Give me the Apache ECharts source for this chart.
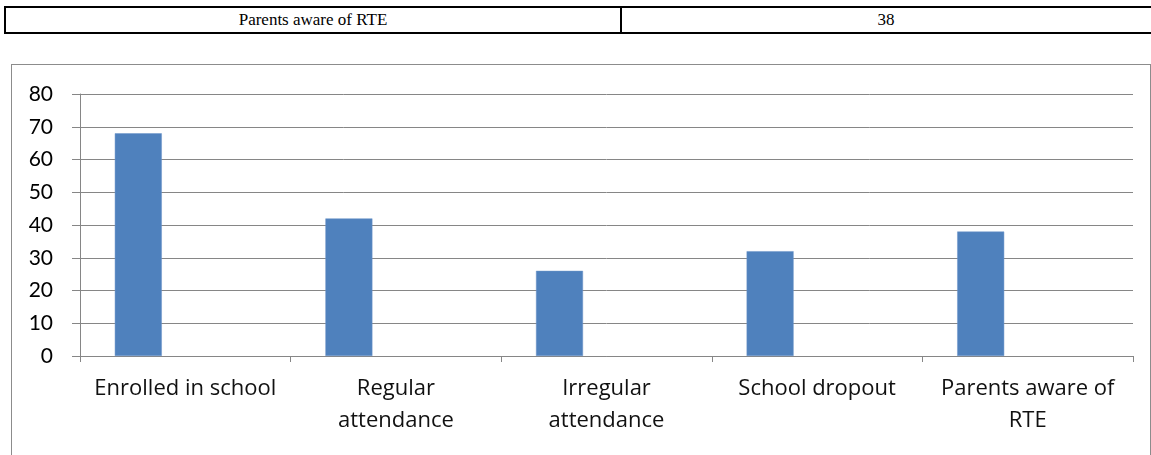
<!DOCTYPE html>
<html>
<head>
<meta charset="utf-8">
<script src="https://cdn.jsdelivr.net/npm/echarts@6/dist/echarts.min.js"></script>
<style>
  html, body { margin: 0; padding: 0; background: #fff; width: 1151px; height: 455px; overflow: hidden; position: relative; }
  #tbl { position: absolute; left: 4px; top: 6px; width: 1150px; height: 24px; border: 2px solid #000; border-right: none; box-sizing: content-box;
         font-family: "Liberation Serif", "Times New Roman", serif; font-size: 17px; color: #000; display: flex; }
  #tbl div { display: flex; align-items: center; justify-content: center; }
  #c1 { width: 614px; border-right: 2px solid #000; }
  #c2 { flex: 1; padding-right: 6px; }
  #frame { position: absolute; left: 11px; top: 64px; width: 1138px; height: 390px; border: 1px solid #8c8c8c; }
  #chart { position: absolute; left: 12px; top: 65px; width: 1138px; height: 390px; }
</style>
</head>
<body>
<div id="tbl"><div id="c1">Parents aware of RTE</div><div id="c2">38</div></div>
<div id="frame"></div>
<div id="chart"></div>
<script>
const categories = ["Enrolled in school", "Regular\nattendance", "Irregular\nattendance", "School dropout", "Parents aware of\nRTE"];
const values = [68, 42, 26, 32, 38];
const emptySlot = ['-', '-', '-', '-', '-'];
const yTicks = { min: 0, max: 80, interval: 10 };

const chart = echarts.init(document.getElementById('chart'), null, { renderer: 'canvas' });
chart.setOption({
  animation: false,
  grid: { left: 68, top: 29, width: 1053, height: 262, containLabel: false },
  xAxis: {
    type: 'category',
    data: categories,
    boundaryGap: true,
    axisLine: { lineStyle: { color: '#868686', width: 1 } },
    axisTick: { show: true, length: 6, alignWithLabel: false, lineStyle: { color: '#868686' } },
    axisLabel: { interval: 0, color: '#111', fontFamily: '"Open Sans", sans-serif', fontSize: 22, lineHeight: 32, margin: 17 },
    splitLine: { show: false }
  },
  yAxis: {
    type: 'value',
    min: yTicks.min, max: yTicks.max, interval: yTicks.interval,
    axisLine: { show: true, lineStyle: { color: '#868686', width: 1 } },
    axisTick: { show: true, length: 8, lineStyle: { color: '#868686' } },
    axisLabel: { color: '#000', fontFamily: 'Lato, sans-serif', fontSize: 21, margin: 27 },
    splitLine: { show: true, lineStyle: { color: '#868686', width: 1 } }
  },
  series: [
    { type: 'bar', name: 'Series 1', data: values, barWidth: 47, barGap: '100%',
      itemStyle: { color: '#4F81BD', borderColor: '#6d95c8', borderWidth: 0.5 } },
    { type: 'bar', name: 'Series 2', data: emptySlot, barWidth: 47 }
  ]
});
</script>
</body>
</html>
